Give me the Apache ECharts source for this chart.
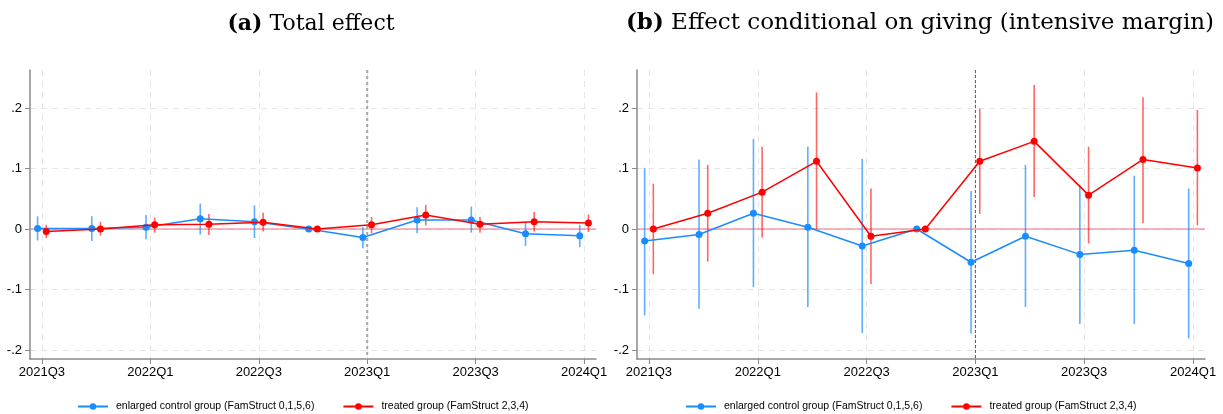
<!DOCTYPE html>
<html>
<head>
<meta charset="utf-8">
<script src="https://cdn.jsdelivr.net/npm/echarts@6/dist/echarts.min.js"></script>
<style>
html,body{margin:0;padding:0;background:#fff;}
#chart{width:1223px;height:414px;}
</style>
</head>
<body>
<div id="chart"></div>
<script>
// ---------- data ----------
const quarters = ['2021Q3','2021Q4','2022Q1','2022Q2','2022Q3','2022Q4','2023Q1','2023Q2','2023Q3','2023Q4','2024Q1'];
const tickQuarters = ['2021Q3','2022Q1','2022Q3','2023Q1','2023Q3','2024Q1'];
const yTicks = [-0.2, -0.1, 0, 0.1, 0.2];
const eventQuarter = '2023Q1';
const refValue = 0;

const nameControl = 'enlarged control group (FamStruct 0,1,5,6)';
const nameTreated = 'treated group (FamStruct 2,3,4)';
const titleA = ['(a)', 'Total effect'];
const titleB = ['(b)', 'Effect conditional on giving (intensive margin)'];

// Panel (a): Total effect
const aControl   = [0.001, 0.001, 0.003, 0.017, 0.012, 0, -0.014, 0.015, 0.015, -0.008, -0.011];
const aControlLo = [-0.019, -0.020, -0.017, -0.009, -0.015, null, -0.032, -0.007, -0.006, -0.028, -0.030];
const aControlHi = [0.021, 0.021, 0.023, 0.042, 0.039, null, 0.003, 0.036, 0.037, 0.010, 0.007];
const aTreated   = [-0.004, 0.000, 0.007, 0.008, 0.011, 0, 0.007, 0.023, 0.008, 0.012, 0.010];
const aTreatedLo = [-0.015, -0.011, -0.006, -0.010, -0.004, null, -0.007, 0.006, -0.006, -0.004, -0.005];
const aTreatedHi = [0.007, 0.012, 0.019, 0.025, 0.027, null, 0.020, 0.040, 0.020, 0.028, 0.024];

// Panel (b): Effect conditional on giving
const bControl   = [-0.020, -0.009, 0.026, 0.003, -0.028, 0, -0.055, -0.012, -0.042, -0.035, -0.057];
const bControlLo = [-0.143, -0.132, -0.096, -0.129, -0.172, null, -0.173, -0.129, -0.157, -0.157, -0.181];
const bControlHi = [0.101, 0.115, 0.149, 0.136, 0.116, null, 0.063, 0.106, 0.073, 0.088, 0.067];
const bTreated   = [0.000, 0.026, 0.061, 0.112, -0.012, 0, 0.112, 0.145, 0.056, 0.115, 0.101];
const bTreatedLo = [-0.075, -0.054, -0.014, 0.000, -0.091, null, 0.025, 0.053, -0.024, 0.010, 0.006];
const bTreatedHi = [0.075, 0.106, 0.136, 0.226, 0.067, null, 0.199, 0.238, 0.136, 0.218, 0.197];

// ---------- styling / layout ----------
const BLUE = '#1a8cff';
const BLUE_CI = 'rgba(40,145,255,0.75)';
const RED = '#ff0000';
const RED_CI = 'rgba(255,20,20,0.65)';
const ZERO_LINE = '#ec6a7e';
const OFFSET = 0.08;
const SANS = '"Liberation Sans", Arial, Helvetica, sans-serif';
const SERIF = '"DejaVu Serif", "Liberation Serif", serif';

const qIndex = q => quarters.indexOf(q);
const tickIdx = tickQuarters.map(qIndex);

function pts(vals, off) {
  return vals.map((v, i) => [i + off, v]);
}
function ciPts(lo, hi, off) {
  const out = [];
  lo.forEach((l, i) => { if (l !== null && hi[i] !== null) out.push([i + off, l, hi[i]]); });
  return out;
}
function fmtY(v) {
  if (Math.abs(v) < 1e-9) return '0';
  const s = String(Math.round(Math.abs(v) * 10) / 10).replace(/^0/, '');
  return (v < 0 ? '-' : '') + s;
}

const grids = [
  {left: 30, right: 627, top: 70, bottom: 55},
  {left: 637, right: 18, top: 70, bottom: 55}
];

function xAxis(gi) {
  return {
    type: 'value', gridIndex: gi, min: -0.22, max: 10.22,
    axisLine: {show: true, onZero: false, lineStyle: {color: '#8a8a8a', width: 1.5}},
    axisTick: {show: true, length: 5, customValues: tickIdx, lineStyle: {color: '#8a8a8a', width: 1}},
    axisLabel: {customValues: tickIdx, margin: 7, color: '#000', fontFamily: SANS, fontSize: 13,
      formatter: v => quarters[Math.round(v)] || ''},
    splitLine: {show: true, lineStyle: {color: '#e6e6e6', type: [6, 5], width: 1}}
  };
}
function yAxis(gi) {
  return {
    type: 'value', gridIndex: gi, min: -0.215, max: 0.263,
    axisLine: {show: true, onZero: false, lineStyle: {color: '#8a8a8a', width: 1.5}},
    axisTick: {show: true, length: 5, customValues: yTicks, lineStyle: {color: '#8a8a8a', width: 1}},
    axisLabel: {customValues: yTicks, margin: 8, color: '#000', fontFamily: SANS, fontSize: 13, formatter: fmtY},
    splitLine: {show: true, lineStyle: {color: '#e6e6e6', type: [6, 5], width: 1}}
  };
}

function ciSeries(id, gi, lo, hi, off, color) {
  return {
    type: 'custom', id: id, name: id, xAxisIndex: gi, yAxisIndex: gi, z: 2,
    data: ciPts(lo, hi, off),
    renderItem: function (params, api) {
      const p1 = api.coord([api.value(0), api.value(1)]);
      const p2 = api.coord([api.value(0), api.value(2)]);
      return {type: 'line', shape: {x1: p1[0], y1: p1[1], x2: p2[0], y2: p2[1]},
        style: {stroke: color, lineWidth: 1.6}};
    }
  };
}
// reference lines: horizontal at refValue, vertical at the event quarter
function refSeries(id, gi, vStyle) {
  return {
    type: 'custom', id: id, name: id, xAxisIndex: gi, yAxisIndex: gi, z: 1, silent: true,
    data: [[qIndex(eventQuarter), refValue]],
    renderItem: function (params, api) {
      const cs = params.coordSys;
      const p = api.coord([api.value(0), api.value(1)]);
      return {type: 'group', children: [
        {type: 'line', shape: {x1: cs.x, y1: p[1], x2: cs.x + cs.width, y2: p[1]},
          style: {stroke: ZERO_LINE, lineWidth: 1}},
        {type: 'line', shape: {x1: p[0], y1: cs.y, x2: p[0], y2: cs.y + cs.height},
          style: Object.assign({fill: null}, vStyle)}
      ]};
    }
  };
}
function lineSeries(id, name, gi, vals, off, color, z) {
  return {
    type: 'line', id: id, name: name, xAxisIndex: gi, yAxisIndex: gi, z: z,
    data: pts(vals, off), symbol: 'circle', symbolSize: 7,
    itemStyle: {color: color}, lineStyle: {color: color, width: 1.5},
    emphasis: {disabled: true}, animation: false
  };
}

const legendCommon = {
  top: 396, itemWidth: 30, itemHeight: 8, itemGap: 28,
  textStyle: {fontFamily: SANS, fontSize: 10.5, color: '#000', padding: [0, 0, 0, 3]},
  data: [nameControl, nameTreated], selectedMode: false
};

function richTitle(size) {
  return {
    b: {fontFamily: SERIF, fontSize: size, fontWeight: 'bold', color: '#000'},
    r: {fontFamily: SERIF, fontSize: size, fontWeight: 'normal', color: '#000'}
  };
}

const option = {
  backgroundColor: '#fff',
  animation: false,
  title: [
    {text: '{b|' + titleA[0] + '}{r| ' + titleA[1] + '}', left: 306, top: 8, textAlign: 'center',
      textStyle: {rich: richTitle(22)}},
    {text: '{b|' + titleB[0] + '}{r| ' + titleB[1] + '}', left: 915, top: 7, textAlign: 'center',
      textStyle: {rich: richTitle(23)}}
  ],
  legend: [
    Object.assign({}, legendCommon, {left: 72}),
    Object.assign({}, legendCommon, {left: 680})
  ],
  grid: grids,
  xAxis: [xAxis(0), xAxis(1)],
  yAxis: [yAxis(0), yAxis(1)],
  series: [
    refSeries('refA', 0, {stroke: '#a6a6a6', lineWidth: 2, lineDash: [3, 3]}),
    ciSeries('ciAControl', 0, aControlLo, aControlHi, -OFFSET, BLUE_CI),
    ciSeries('ciATreated', 0, aTreatedLo, aTreatedHi, OFFSET, RED_CI),
    lineSeries('lineAControl', nameControl, 0, aControl, -OFFSET, BLUE, 3),
    lineSeries('lineATreated', nameTreated, 0, aTreated, OFFSET, RED, 4),
    refSeries('refB', 1, {stroke: '#555555', lineWidth: 1, lineDash: [3, 2]}),
    ciSeries('ciBControl', 1, bControlLo, bControlHi, -OFFSET, BLUE_CI),
    ciSeries('ciBTreated', 1, bTreatedLo, bTreatedHi, OFFSET, RED_CI),
    lineSeries('lineBControl', nameControl, 1, bControl, -OFFSET, BLUE, 3),
    lineSeries('lineBTreated', nameTreated, 1, bTreated, OFFSET, RED, 4)
  ]
};

const chart = echarts.init(document.getElementById('chart'), null, {renderer: 'canvas'});
chart.setOption(option);
</script>
</body>
</html>
